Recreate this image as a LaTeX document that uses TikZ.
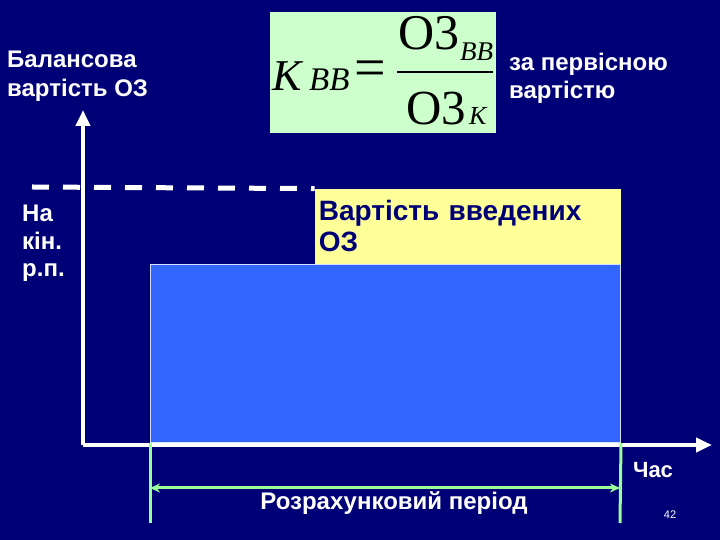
\documentclass[tikz,border=0pt]{standalone}
\usepackage{fontspec}
\setmainfont{Liberation Sans}
\newfontfamily\timesfont{Liberation Serif}
\usetikzlibrary{arrows.meta, positioning}
\definecolor{navy}{RGB}{0,0,118}
\definecolor{rectblue}{RGB}{51,102,255}
\definecolor{paleyellow}{RGB}{255,255,153}
\definecolor{palegreen}{RGB}{204,255,204}
\definecolor{linegreen}{RGB}{153,255,153}
\newcommand{\fs}[1]{\fontsize{#1}{#1}\selectfont}

\begin{document}
\begin{tikzpicture}[x=1pt, y=1pt,
        lbl/.style={text=white, font=\bfseries\fontsize{24}{29}\selectfont, align=left, inner sep=0pt},
        frm/.style={inner sep=0pt, anchor=base west, text=black},
        axis/.style={white, line width=4pt, -{Triangle[length=16pt, width=14pt]}},
        span/.style={linegreen, line width=3pt}]

            \fill[navy] (0,0) rectangle (720,540);
            \useasboundingbox (0,0) rectangle (720,540);

            % formula
            \node[fill=palegreen, minimum width=226, minimum height=121, inner sep=0pt, anchor=north west] (kform) at (270,528) {};
            \node[frm, font=\timesfont\itshape\fs{44}] (kk) at (272,449) {К};
            \node[frm, font=\timesfont\itshape\fs{33}] (kksub) at (309,449) {ВВ};
            \node[frm, font=\timesfont\fs{56}, anchor=center] (eq) at (370,466) {=};
            \node[frm, font=\timesfont\fs{50}] (num) at (398,490) {О3};
            \node[frm, font=\timesfont\itshape\fs{27}] (numsub) at (460,479) {ВВ};
            \node[frm, font=\timesfont\fs{49}] (den) at (406,415) {О3};
            \node[frm, font=\timesfont\itshape\fs{26}] (densub) at (469,415) {К};
            \coordinate (barL) at (397,468);
            \coordinate (barR) at (493,468);
            \draw[black, line width=1.5pt] (barL) -- (barR);

            \node[lbl, anchor=north west] (bal) at (7,489) {Балансова\\вартість ОЗ};
            \node[lbl, anchor=north west, font=\bfseries\fontsize{24}{28}\selectfont] (perv) at (509,487) {за первісною\\вартістю};

            % rectangles
            \node[fill=rectblue, draw=white!80!rectblue, line width=1pt, minimum width=470, minimum height=178, inner sep=0pt, anchor=south west] (base) at (150,97) {};
            \node[fill=paleyellow, minimum width=306, minimum height=75, text width=298, inner sep=4pt, anchor=south east,
                  text=navy, font=\bfseries\fontsize{28}{31}\selectfont, align=left] (added) at (base.north east) {Вартість введених\\ОЗ};

            % axes
            \coordinate (orig) at (83,95);
            \coordinate (ytop) at (83,430);
            \coordinate (xend) at (712,95);
            \draw[axis] (orig) -- (ytop);
            \draw[axis] (orig) -- (xend);

            % dashed level
            \coordinate (dashL) at (32,353);
            \draw[white, line width=5pt, dash pattern=on 17pt off 14pt] (dashL) -- (added.north west);
            \node[lbl, anchor=north west, font=\bfseries\fontsize{24}{27.5}\selectfont] (kin) at (22,335) {На\\кін.\\р.п.};

            % period
            \coordinate (gl) at (150,17);
            \coordinate (gr) at (620,17);
            \coordinate (pl) at (150,52);
            \coordinate (pr) at (620,52);
            \draw[span] (base.south west) -- (gl);
            \draw[span] (base.south east) -- (gr);
            \draw[span, {Stealth[length=10pt, width=9pt]}-{Stealth[length=10pt, width=9pt]}] (pl) -- (pr);
            \node[lbl, anchor=base] (per) at (394,30) {Розрахунковий період};
            \node[lbl, font=\bfseries\fontsize{22}{26}\selectfont] (chas) at (653,70) {Час};
            \node[text=white, font=\fontsize{11}{13}\selectfont] (pnum) at (670,25) {42};

        \end{tikzpicture}
\end{document}
